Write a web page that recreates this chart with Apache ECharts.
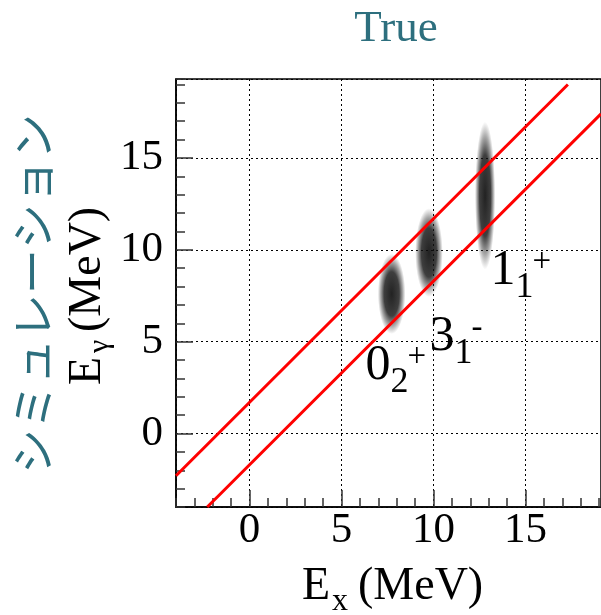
<!DOCTYPE html>
<html><head><meta charset="utf-8">
<script src="https://cdn.jsdelivr.net/npm/echarts@6/dist/echarts.min.js"></script>
<style>html,body{margin:0;padding:0;background:#fff}#c{width:601px;height:615px}</style>
</head><body><div id="c"></div>
<script>
// ---- data ----
const titleText = 'True';
const sideText = 'シミュレーション';
const xTitleParts = ['E', 'x', '(MeV)'];
const yTitleParts = ['E', 'γ', '(MeV)'];
const xRange = [-4, 19.1];
const yRange = [-4, 19.3];
const majorStep = 5;
const minorStep = 1;
// simulated event clusters: centre (Ex, Eγ) and spread (σx, σγ) in MeV
const clusterCentres = [[7.72, 7.6], [9.75, 9.85], [12.8, 12.95]];
const clusterSpreads = [[0.30, 0.95], [0.30, 1.05], [0.22, 1.75]];
// gate lines (end points in MeV)
const upperGate = [[-4, -2.3], [17.3, 19.0]];
const lowerGate = [[-2.3, -4], [19.1, 17.4]];
// state labels
const stateMain = ['0', '3', '1'];
const stateSub = ['2', '1', '1'];
const stateParity = ['+', '-', '+'];
const stateAnchor = [[6.30, 2.77], [9.78, 4.35], [13.10, 7.95]];

// ---- drawing ----
const SERIF = '"Liberation Serif", "Times New Roman", serif';
const TEAL = '#2d6f7e';
const MID = 0.3375; // baseline offset (em) for middle-aligned serif text

function fmt(v) { return (Math.abs(v % majorStep) < 1e-9) ? String(v) : ''; }

function serifText(x, baseline, text, size, align) {
  return { type: 'text', x: x, y: baseline - size * MID,
    style: { text: text, font: size + 'px ' + SERIF, fill: '#000',
      align: align || 'left', verticalAlign: 'middle' } };
}

const chart = echarts.init(document.getElementById('c'), null, { renderer: 'canvas' });

chart.setOption({
  animation: false,
  backgroundColor: '#fff',
  grid: { left: 176, top: 79, width: 425, height: 428, show: true,
    borderColor: '#000', borderWidth: 1.5, backgroundColor: 'transparent' },
  xAxis: [
    { type: 'value', min: xRange[0], max: xRange[1], minInterval: majorStep, maxInterval: majorStep,
      position: 'bottom',
      axisLine: { show: true, onZero: false, lineStyle: { color: '#000', width: 1.5 } },
      axisTick: { show: true, inside: true, length: 17, lineStyle: { color: '#333', width: 1.5 } },
      axisLabel: { show: true, margin: 2, formatter: fmt, showMinLabel: false, showMaxLabel: false,
        fontFamily: SERIF, fontSize: 43, color: '#000' },
      splitLine: { show: true, lineStyle: { color: '#000', width: 1, type: [2, 3] } } },
    { type: 'value', min: xRange[0], max: xRange[1], interval: minorStep, position: 'bottom',
      axisLine: { show: false, onZero: false }, axisLabel: { show: false }, splitLine: { show: false },
      axisTick: { show: true, inside: true, length: 9, lineStyle: { color: '#333', width: 1.5 } } }
  ],
  yAxis: [
    { type: 'value', min: yRange[0], max: yRange[1], minInterval: majorStep, maxInterval: majorStep,
      position: 'left',
      axisLine: { show: true, onZero: false, lineStyle: { color: '#000', width: 1.5 } },
      axisTick: { show: true, inside: true, length: 17, lineStyle: { color: '#333', width: 1.5 } },
      axisLabel: { show: true, margin: 13, formatter: fmt, showMinLabel: false, showMaxLabel: false,
        fontFamily: SERIF, fontSize: 43, color: '#000' },
      splitLine: { show: true, lineStyle: { color: '#000', width: 1, type: [2, 3] } } },
    { type: 'value', min: yRange[0], max: yRange[1], interval: minorStep, position: 'left',
      axisLine: { show: false, onZero: false }, axisLabel: { show: false }, splitLine: { show: false },
      axisTick: { show: true, inside: true, length: 9, lineStyle: { color: '#333', width: 1.5 } } }
  ],
  series: [
    { type: 'custom', name: 'clusters', xAxisIndex: 0, yAxisIndex: 0, clip: true, z: 2,
      data: clusterCentres.map((c, i) => [c[0], c[1], clusterSpreads[i][0], clusterSpreads[i][1]]),
      renderItem: function (params, api) {
        const c = api.coord([api.value(0), api.value(1)]);
        const s = api.size([api.value(2), api.value(3)]);
        const rx = s[0] * 2.5, ry = s[1] * 2.3;
        return { type: 'circle', x: c[0], y: c[1], scaleX: rx / ry,
          shape: { cx: 0, cy: 0, r: ry },
          style: { fill: { type: 'radial', x: 0.5, y: 0.5, r: 0.5, colorStops: [
            { offset: 0, color: 'rgba(10,10,10,0.9)' },
            { offset: 0.55, color: 'rgba(20,20,20,0.82)' },
            { offset: 0.8, color: 'rgba(40,40,40,0.4)' },
            { offset: 1, color: 'rgba(60,60,60,0)' } ] } } };
      } },
    { type: 'line', name: 'upper', data: upperGate, symbol: 'none', clip: true, z: 3,
      lineStyle: { color: '#ff0000', width: 3 } },
    { type: 'line', name: 'lower', data: lowerGate, symbol: 'none', clip: true, z: 3,
      lineStyle: { color: '#ff0000', width: 3 } },
    { type: 'custom', name: 'labels', clip: false, z: 4,
      data: stateAnchor,
      renderItem: function (params, api) {
        const i = params.dataIndex;
        const p = api.coord([api.value(0), api.value(1)]);
        return { type: 'group', children: [
          serifText(p[0], p[1], stateMain[i], 50),
          serifText(p[0] + 25, p[1] + 12, stateSub[i], 36),
          serifText(p[0] + 42, p[1] - 14, stateParity[i], 33)
        ] };
      } }
  ],
  graphic: [
    { type: 'text', x: 396, y: 29, style: { text: titleText, font: '45px ' + SERIF, fill: TEAL,
      align: 'center', verticalAlign: 'middle' } },
    { type: 'text', x: 33, y: 294, rotation: Math.PI / 2, style: { text: sideText,
      font: '45px "Noto Sans CJK JP"', fill: TEAL, align: 'center', verticalAlign: 'middle' } },
    { type: 'group', x: 0, y: 0, children: [
      serifText(302, 602, xTitleParts[0], 46),
      serifText(332, 612, xTitleParts[1], 32),
      serifText(358, 602, xTitleParts[2], 46)
    ] },
    { type: 'group', x: 103, y: 385, rotation: Math.PI / 2, children: [
      serifText(0, 0, yTitleParts[0], 46),
      serifText(32, 7, yTitleParts[1], 30),
      serifText(53, 0, yTitleParts[2], 46)
    ] }
  ]
});
</script></body></html>
